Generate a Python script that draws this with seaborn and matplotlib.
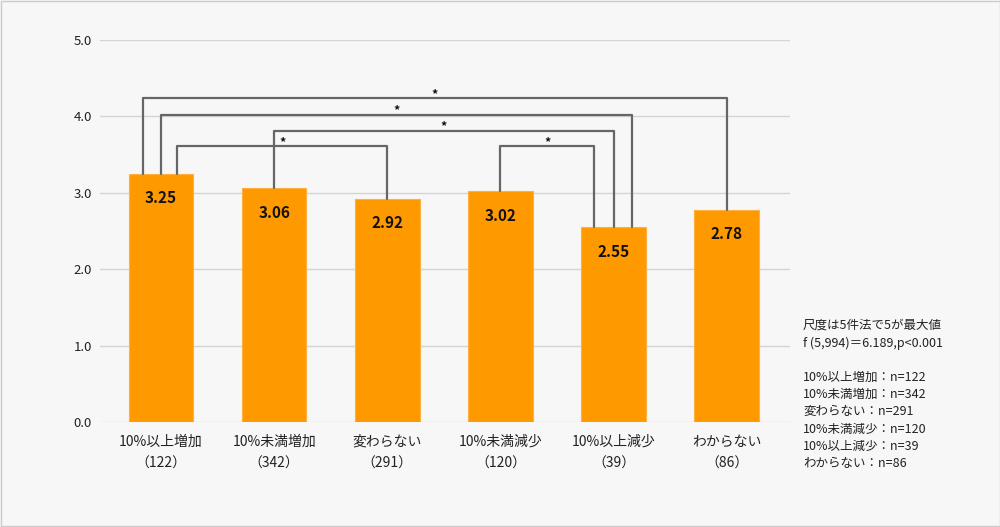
import matplotlib
matplotlib.use("Agg")
import matplotlib.pyplot as plt
import seaborn as sns
import pandas as pd

# data
categories = ["10%以上増加", "10%未満増加", "変わらない", "10%未満減少", "10%以上減少", "わからない"]
counts = [122, 342, 291, 120, 39, 86]
means = [3.25, 3.06, 2.92, 3.02, 2.55, 2.78]
y_ticks = [0.0, 1.0, 2.0, 3.0, 4.0, 5.0]

# significant pairs: (left bar, right bar, bracket height, left offset, right offset)
pairs = [
    (0, 5, 4.24, -0.16, 0.0),
    (0, 4, 4.02, 0.0, 0.16),
    (1, 4, 3.81, 0.0, 0.0),
    (0, 2, 3.61, 0.14, 0.0),
    (3, 4, 3.61, 0.0, -0.17),
]

note_lines = ["尺度は5件法で5が最大値", "f (5,994)＝6.189,p<0.001", ""] + \
    [f"{c}：n={n}" for c, n in zip(categories, counts)]

sns.set_theme(style="white")
plt.rcParams["font.family"] = ["Noto Sans CJK JP", "DejaVu Sans"]

BG = "#f7f7f7"
ORANGE = "#ff9900"
TEXT = "#222222"

fig = plt.figure(figsize=(10, 5.27), dpi=100, facecolor=BG)
ax = fig.add_axes([0.1, 0.1992, 0.69, 0.7249])
ax.set_facecolor(BG)

df = pd.DataFrame({"cat": categories, "mean": means})
sns.barplot(data=df, x="cat", y="mean", color=ORANGE, saturation=1,
            width=0.57, edgecolor="#ffb040", linewidth=0.8, ax=ax, zorder=2)

ax.set_ylim(0, 5)
ax.set_xlim(-0.54, 5.56)
ax.set_yticks(y_ticks)
ax.set_yticklabels([f"{v:.1f}" for v in y_ticks], fontsize=9.5, color=TEXT)
ax.yaxis.grid(True, color="#d4d4d4", linewidth=1, zorder=0)
ax.set_axisbelow(True)
for s in ax.spines.values():
    s.set_visible(False)
ax.tick_params(axis="y", length=0, pad=6)
ax.tick_params(axis="x", length=0, pad=9)
ax.set_xticks(range(len(categories)))
ax.set_xticklabels([f"{c}\n（{n}）" for c, n in zip(categories, counts)],
                   fontsize=10, color=TEXT, linespacing=1.7)
ax.set_xlabel("")
ax.set_ylabel("")

# value labels inside bars
for i, v in enumerate(means):
    ax.text(i, v - 0.32, f"{v:.2f}", ha="center", va="center",
            fontsize=11, fontweight="bold", color="#111111", zorder=4)

# significance brackets
for a, b, h, oa, ob in pairs:
    xa, xb = a + oa, b + ob
    ax.plot([xa, xa, xb, xb], [means[a], h, h, means[b]],
            color="#666666", linewidth=1.6, zorder=3, clip_on=False)
    ax.text((xa + xb) / 2, h + 0.05, "*", ha="center", va="center",
            fontsize=9, fontweight="bold", color="#111111")

# notes on the right
fig.text(0.803, 1 - 319 / 527, "\n".join(note_lines), ha="left", va="top",
         fontsize=9, color=TEXT, linespacing=1.42)

# figure border
fig.patches.append(plt.Rectangle((0.0005, 0.001), 0.999, 0.998, transform=fig.transFigure,
                                 fill=False, edgecolor="#cccccc", linewidth=1))

fig.savefig("out.png", dpi=100, facecolor=BG)
